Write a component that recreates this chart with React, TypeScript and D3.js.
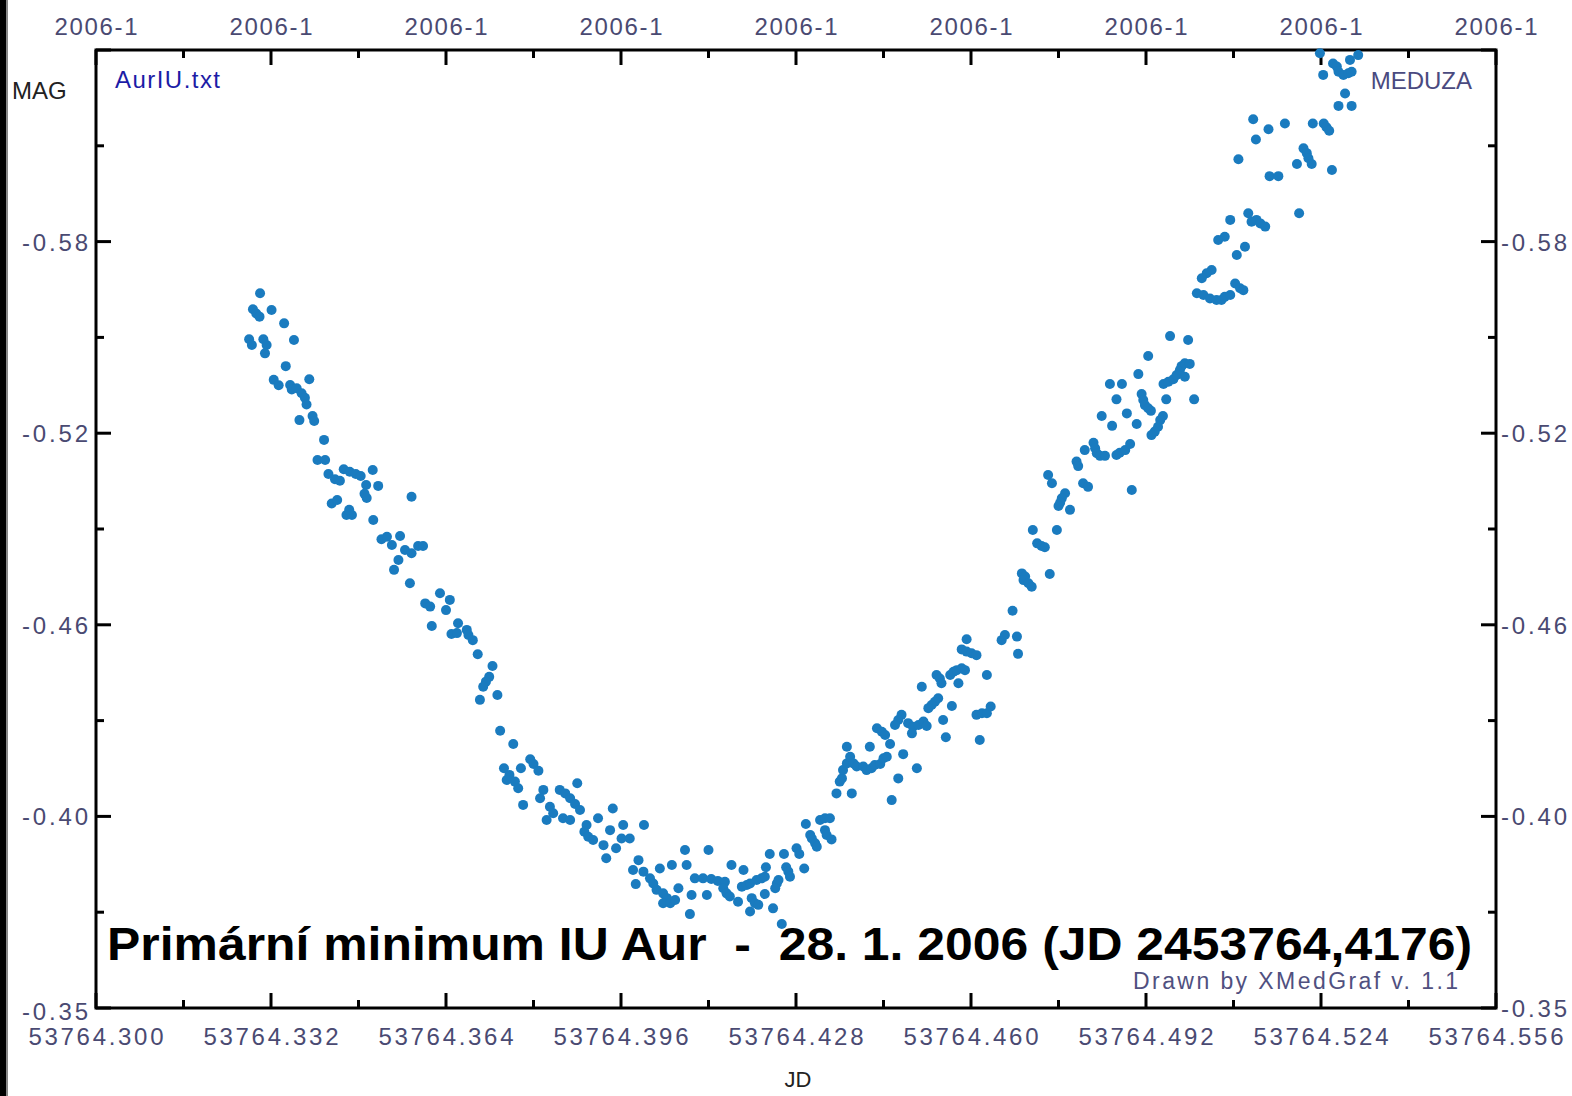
import React from "react";
import * as d3 from "d3";

const jdValues: number[] = [
  53764.3300, 53764.3287, 53764.3293, 53764.3299, 53764.3321, 53764.3344, 53764.3280, 53764.3285, 53764.3306, 53764.3312,
  53764.3309, 53764.3362, 53764.3347, 53764.3325, 53764.3334, 53764.3390, 53764.3355, 53764.3358, 53764.3367, 53764.3376,
  53764.3382, 53764.3385, 53764.3372, 53764.3396, 53764.3399, 53764.3417, 53764.3405, 53764.3419, 53764.3425, 53764.3437,
  53764.3446, 53764.3453, 53764.3464, 53764.3475, 53764.3484, 53764.3506, 53764.3494, 53764.3516, 53764.3491, 53764.3495,
  53764.3577, 53764.3431, 53764.3441, 53764.3458, 53764.3468, 53764.3463, 53764.3507, 53764.3522, 53764.3532, 53764.3541,
  53764.3556, 53764.3565, 53764.3577, 53764.3589, 53764.3598, 53764.3553, 53764.3545, 53764.3574, 53764.3629, 53764.3647,
  53764.3602, 53764.3611, 53764.3640, 53764.3614, 53764.3662, 53764.3650, 53764.3660, 53764.3678, 53764.3681, 53764.3689,
  53764.3698, 53764.3725, 53764.3719, 53764.3713, 53764.3708, 53764.3702, 53764.3734, 53764.3739, 53764.3763, 53764.3746,
  53764.3756, 53764.3751, 53764.3766, 53764.3772, 53764.3777, 53764.3794, 53764.3800, 53764.3809, 53764.3781, 53764.3818,
  53764.3812, 53764.3848, 53764.3858, 53764.3867, 53764.3876, 53764.3885, 53764.3880, 53764.3830, 53764.3836, 53764.3824,
  53764.3854, 53764.3867, 53764.3897, 53764.3893, 53764.3900, 53764.3909, 53764.3918, 53764.3928, 53764.3945, 53764.3940,
  53764.3951, 53764.3933, 53764.3964, 53764.3961, 53764.3976, 53764.4002, 53764.3992, 53764.3982, 53764.3987, 53764.4001,
  53764.4013, 53764.4019, 53764.4031, 53764.4025, 53764.4037, 53764.4044, 53764.4037, 53764.4050, 53764.4059, 53764.4065,
  53764.4053, 53764.4077, 53764.4080, 53764.4086, 53764.4089, 53764.4095, 53764.4110, 53764.4117, 53764.4120, 53764.4125,
  53764.4137, 53764.4150, 53764.4147, 53764.4153, 53764.4159, 53764.4162, 53764.4184, 53764.4174, 53764.4181, 53764.4190,
  53764.4196, 53764.4199, 53764.4205, 53764.4196, 53764.4211, 53764.4208, 53764.4217, 53764.4223, 53764.4225, 53764.4232,
  53764.4223, 53764.4238, 53764.4254, 53764.4245, 53764.4248, 53764.4242, 53764.4258, 53764.4262, 53764.4266, 53764.4269,
  53764.4281, 53764.4286, 53764.4295, 53764.4298, 53764.4306, 53764.4309, 53764.4315, 53764.4318, 53764.4324, 53764.4333,
  53764.4342, 53764.4333, 53764.4336, 53764.4345, 53764.4354, 53764.4382, 53764.4360, 53764.4364, 53764.4366, 53764.4373,
  53764.4379, 53764.4385, 53764.4391, 53764.4592, 53764.4583, 53764.4592, 53764.4601, 53764.4610, 53764.4537, 53764.4543,
  53764.4546, 53764.4510, 53764.4562, 53764.4568, 53764.4574, 53764.4583, 53764.4589, 53764.4577, 53764.4540, 53764.4534,
  53764.4528, 53764.4522, 53764.4565, 53764.4473, 53764.4467, 53764.4461, 53764.4485, 53764.4494, 53764.4504, 53764.4513,
  53764.4519, 53764.4492, 53764.4549, 53764.4554, 53764.4610, 53764.4620, 53764.4629, 53764.4636, 53764.4616, 53764.4428,
  53764.4437, 53764.4443, 53764.4452, 53764.4415, 53764.4373, 53764.4403, 53764.4409, 53764.4418, 53764.4424, 53764.4434,
  53764.4440, 53764.4446, 53764.4476, 53764.4501, 53764.4467, 53764.4455, 53764.4629, 53764.4656, 53764.4662, 53764.4684,
  53764.4686, 53764.4676, 53764.4693, 53764.4699, 53764.4696, 53764.4705, 53764.4711, 53764.4744, 53764.4713, 53764.4757,
  53764.4721, 53764.4729, 53764.4735, 53764.4741, 53764.4748, 53764.4772, 53764.4766, 53764.4763, 53764.4760, 53764.4781,
  53764.4793, 53764.4796, 53764.4964, 53764.4997, 53764.4924, 53764.4906, 53764.4854, 53764.4876, 53764.4866, 53764.4912,
  53764.4915, 53764.4918, 53764.4924, 53764.4929, 53764.4885, 53764.4839, 53764.4858, 53764.4903, 53764.4951, 53764.4946,
  53764.4942, 53764.4936, 53764.4930, 53764.4957, 53764.4952, 53764.4961, 53764.4970, 53764.4976, 53764.4982, 53764.4985,
  53764.4991, 53764.4991, 53764.5000, 53764.5008, 53764.4824, 53764.4827, 53764.4830, 53764.4836, 53764.4845, 53764.4808,
  53764.4866, 53764.4872, 53764.4882, 53764.4891, 53764.4805, 53764.4814, 53764.4894, 53764.5238, 53764.5262, 53764.5269,
  53764.5272, 53764.5281, 53764.5290, 53764.5296, 53764.5244, 53764.5293, 53764.5308, 53764.5284, 53764.5272, 53764.5296,
  53764.5116, 53764.5144, 53764.5174, 53764.5121, 53764.5225, 53764.5245, 53764.5250, 53764.5255, 53764.5089, 53764.5208,
  53764.5214, 53764.5217, 53764.5223, 53764.5196, 53764.5260, 53764.5146, 53764.5162, 53764.5200, 53764.5107, 53764.5113,
  53764.5122, 53764.5129, 53764.5138, 53764.5074, 53764.5064, 53764.5052, 53764.5101, 53764.5086, 53764.5040, 53764.5031,
  53764.5022, 53764.5013, 53764.5025, 53764.5037, 53764.5049, 53764.5058, 53764.5064, 53764.5074, 53764.5083, 53764.5092,
  53764.5098,
];

const magValues: number[] = [
  -0.5638, -0.5588, -0.5575, -0.5565, -0.5586, -0.5544, -0.5494, -0.5476, -0.5494, -0.5476,
  -0.5450, -0.5492, -0.5410, -0.5367, -0.5350, -0.5369, -0.5351, -0.5337, -0.5341, -0.5325,
  -0.5311, -0.5290, -0.5241, -0.5254, -0.5238, -0.5179, -0.5116, -0.5116, -0.5072, -0.5056,
  -0.5051, -0.5087, -0.5079, -0.5072, -0.5066, -0.5085, -0.5038, -0.5035, -0.5010, -0.4997,
  -0.5001, -0.4980, -0.4991, -0.4944, -0.4944, -0.4960, -0.4928, -0.4868, -0.4876, -0.4850,
  -0.4878, -0.4834, -0.4824, -0.4847, -0.4847, -0.4803, -0.4772, -0.4730, -0.4699, -0.4678,
  -0.4667, -0.4657, -0.4646, -0.4596, -0.4605, -0.4571, -0.4574, -0.4584, -0.4568, -0.4552,
  -0.4508, -0.4471, -0.4437, -0.4422, -0.4406, -0.4365, -0.4380, -0.4268, -0.4227, -0.4151,
  -0.4130, -0.4114, -0.4109, -0.4088, -0.4151, -0.4179, -0.4164, -0.4143, -0.4036, -0.4083,
  -0.4057, -0.4083, -0.4072, -0.4057, -0.4039, -0.4020, -0.4104, -0.4030, -0.4010, -0.3989,
  -0.3994, -0.3989, -0.3973, -0.3952, -0.3936, -0.3926, -0.3994, -0.3910, -0.4025, -0.3957,
  -0.3900, -0.3869, -0.3973, -0.3931, -0.3931, -0.3973, -0.3863, -0.3832, -0.3788, -0.3827,
  -0.3806, -0.3790, -0.3837, -0.3770, -0.3759, -0.3744, -0.3728, -0.3728, -0.3738, -0.3775,
  -0.3848, -0.3895, -0.3848, -0.3694, -0.3754, -0.3806, -0.3806, -0.3754, -0.3895, -0.3804,
  -0.3798, -0.3795, -0.3775, -0.3759, -0.3749, -0.3848, -0.3832, -0.3733, -0.3780, -0.3785,
  -0.3790, -0.3744, -0.3728, -0.3702, -0.3723, -0.3801, -0.3806, -0.3811, -0.3841, -0.3882,
  -0.3757, -0.3712, -0.3663, -0.3790, -0.3801, -0.3775, -0.3882, -0.3841, -0.3827, -0.3811,
  -0.3900, -0.3882, -0.3837, -0.3976, -0.3942, -0.3931, -0.3916, -0.3905, -0.3989, -0.3994,
  -0.3994, -0.3957, -0.3942, -0.3928, -0.4072, -0.4072, -0.4109, -0.4119, -0.4145, -0.4166,
  -0.4187, -0.4166, -0.4156, -0.4555, -0.4523, -0.4516, -0.4511, -0.4505, -0.4443, -0.4432,
  -0.4417, -0.4406, -0.4443, -0.4453, -0.4458, -0.4464, -0.4458, -0.4417, -0.4370, -0.4359,
  -0.4349, -0.4339, -0.4346, -0.4318, -0.4302, -0.4286, -0.4292, -0.4281, -0.4286, -0.4297,
  -0.4283, -0.4260, -0.4302, -0.4248, -0.4318, -0.4323, -0.4323, -0.4344, -0.4239, -0.4276,
  -0.4265, -0.4255, -0.4227, -0.4218, -0.4218, -0.4156, -0.4145, -0.4151, -0.4161, -0.4164,
  -0.4182, -0.4187, -0.4195, -0.4151, -0.4119, -0.4051, -0.4443, -0.4552, -0.4568, -0.4563,
  -0.4509, -0.4644, -0.4761, -0.4751, -0.4740, -0.4730, -0.4719, -0.4759, -0.4897, -0.4897,
  -0.4855, -0.4847, -0.4843, -0.5069, -0.5043, -0.5012, -0.4996, -0.4982, -0.4972, -0.4960,
  -0.5111, -0.5097, -0.5504, -0.5492, -0.5442, -0.5385, -0.5354, -0.5354, -0.5306, -0.5323,
  -0.5304, -0.5288, -0.5278, -0.5270, -0.5262, -0.5254, -0.5223, -0.5229, -0.5254, -0.5241,
  -0.5220, -0.5205, -0.5194, -0.5306, -0.5354, -0.5361, -0.5369, -0.5382, -0.5398, -0.5410,
  -0.5419, -0.5377, -0.5417, -0.5306, -0.5170, -0.5153, -0.5137, -0.5129, -0.5129, -0.5147,
  -0.5132, -0.5139, -0.5147, -0.5166, -0.5043, -0.5032, -0.5022, -0.6390, -0.6358, -0.6348,
  -0.6332, -0.6322, -0.6327, -0.6332, -0.6322, -0.6369, -0.6384, -0.6264, -0.6225, -0.6225,
  -0.6183, -0.6152, -0.6170, -0.6120, -0.6170, -0.6170, -0.6158, -0.6147, -0.6058, -0.6092,
  -0.6077, -0.6061, -0.6043, -0.6043, -0.6024, -0.6005, -0.6005, -0.5889, -0.5889, -0.5862,
  -0.5868, -0.5857, -0.5847, -0.5868, -0.5815, -0.5805, -0.5784, -0.5758, -0.5711, -0.5701,
  -0.5685, -0.5638, -0.5633, -0.5622, -0.5617, -0.5617, -0.5627, -0.5633, -0.5669, -0.5654,
  -0.5648,
];

const xDomain: [number, number] = [53764.3, 53764.556];
const yDomain: [number, number] = [-0.34, -0.64];
const xMajorTicks: number[] = [53764.3, 53764.332, 53764.364, 53764.396, 53764.428, 53764.46, 53764.492, 53764.524, 53764.556];
const xTickLabels: string[] = ["53764.300", "53764.332", "53764.364", "53764.396", "53764.428", "53764.460", "53764.492", "53764.524", "53764.556"];
const topTickLabel = "2006-1";
const yMajorTicks: number[] = [-0.34, -0.40, -0.46, -0.52, -0.58, -0.64];
const yTickLabels: string[] = ["-0.35", "-0.40", "-0.46", "-0.52", "-0.58", ""];

const titleText = "Primární minimum IU Aur  -  28. 1. 2006 (JD 2453764,4176)";

export default function App() {
  const W = 1572, H = 1096;
  const L = 96, R = 1496, T = 50, B = 1008;
  const x = d3.scaleLinear().domain(xDomain).range([L, R]);
  const y = d3.scaleLinear().domain(yDomain).range([B, T]);
  const xMinor = xMajorTicks.slice(0, -1).map((v, i) => (v + xMajorTicks[i + 1]) / 2);
  const yMinor = yMajorTicks.slice(0, -1).map((v, i) => (v + yMajorTicks[i + 1]) / 2);
  const labelColor = "#4a4a72";
  const font = "'Liberation Sans', Arial, sans-serif";
  const points = jdValues.map((j, i) => [j, magValues[i]]);

  return (
    <svg width={W} height={H} style={{ position: "absolute", left: 0, top: 0, background: "#fff" }} fontFamily={font}>
      <rect x={0} y={0} width={W} height={H} fill="#fff" />
      <rect x={0} y={0} width={6} height={H} fill="#000" />
      <rect x={6} y={0} width={2} height={H} fill="#888" />

      {/* ticks */}
      {xMajorTicks.map((v, i) => (
        <g key={"xm" + i}>
          <line x1={x(v)} x2={x(v)} y1={B} y2={B - 15} stroke="#000" strokeWidth={3} />
          <line x1={x(v)} x2={x(v)} y1={T} y2={T + 15} stroke="#000" strokeWidth={3} />
        </g>
      ))}
      {xMinor.map((v, i) => (
        <g key={"xn" + i}>
          <line x1={x(v)} x2={x(v)} y1={B} y2={B - 8} stroke="#000" strokeWidth={3} />
          <line x1={x(v)} x2={x(v)} y1={T} y2={T + 8} stroke="#000" strokeWidth={3} />
        </g>
      ))}
      {yMajorTicks.map((v, i) => (
        <g key={"ym" + i}>
          <line x1={L} x2={L + 15} y1={y(v)} y2={y(v)} stroke="#000" strokeWidth={3} />
          <line x1={R} x2={R - 15} y1={y(v)} y2={y(v)} stroke="#000" strokeWidth={3} />
        </g>
      ))}
      {yMinor.map((v, i) => (
        <g key={"yn" + i}>
          <line x1={L} x2={L + 8} y1={y(v)} y2={y(v)} stroke="#000" strokeWidth={3} />
          <line x1={R} x2={R - 8} y1={y(v)} y2={y(v)} stroke="#000" strokeWidth={3} />
        </g>
      ))}

      <rect x={L} y={T} width={R - L} height={B - T} fill="none" stroke="#000" strokeWidth={3} />

      {/* x labels */}
      {xMajorTicks.map((v, i) => (
        <text key={"xl" + i} x={x(v)} y={1045} textAnchor="middle" fontSize={24} fill={labelColor}
          textLength={135} lengthAdjust="spacing">{xTickLabels[i]}</text>
      ))}
      {xMajorTicks.map((v, i) => (
        <text key={"tl" + i} x={x(v)} y={35} textAnchor="middle" fontSize={24} fill={labelColor}
          textLength={83} lengthAdjust="spacing">{topTickLabel}</text>
      ))}
      {/* y labels */}
      {yMajorTicks.map((v, i) => yTickLabels[i] ? (
        <g key={"yl" + i}>
          <text x={88} y={i === 0 ? 1020 : y(v) + 9} textAnchor="end" fontSize={24} fill={labelColor}
            textLength={66} lengthAdjust="spacing">{yTickLabels[i]}</text>
          <text x={1501} y={i === 0 ? 1017 : y(v) + 9} textAnchor="start" fontSize={24} fill={labelColor}
            textLength={66} lengthAdjust="spacing">{yTickLabels[i]}</text>
        </g>
      ) : null)}

      <text x={12} y={99} fontSize={24} fill="#222">MAG</text>
      <text x={798} y={1087} textAnchor="middle" fontSize={22} fill="#222">JD</text>
      <text x={115} y={88} fontSize={24} fill="#1c1ca6" textLength={105} lengthAdjust="spacing">AurIU.txt</text>

      {/* points */}
      {points.map((p, i) => (
        <circle key={"p" + i} cx={x(p[0])} cy={y(p[1])} r={5} fill="#1a7bbf" />
      ))}

      <text x={1472} y={89} textAnchor="end" fontSize={24} fill="#4a4a80">MEDUZA</text>
      <text x={107} y={960} fontSize={46} fontWeight="bold" fill="#000" textLength={1365}
        lengthAdjust="spacingAndGlyphs" xmlSpace="preserve" style={{ whiteSpace: "pre" }}>{titleText}</text>
      <text x={1458} y={989} textAnchor="end" fontSize={23} fill="#505080" textLength={325} lengthAdjust="spacing">Drawn by XMedGraf v. 1.1</text>
    </svg>
  );
}
